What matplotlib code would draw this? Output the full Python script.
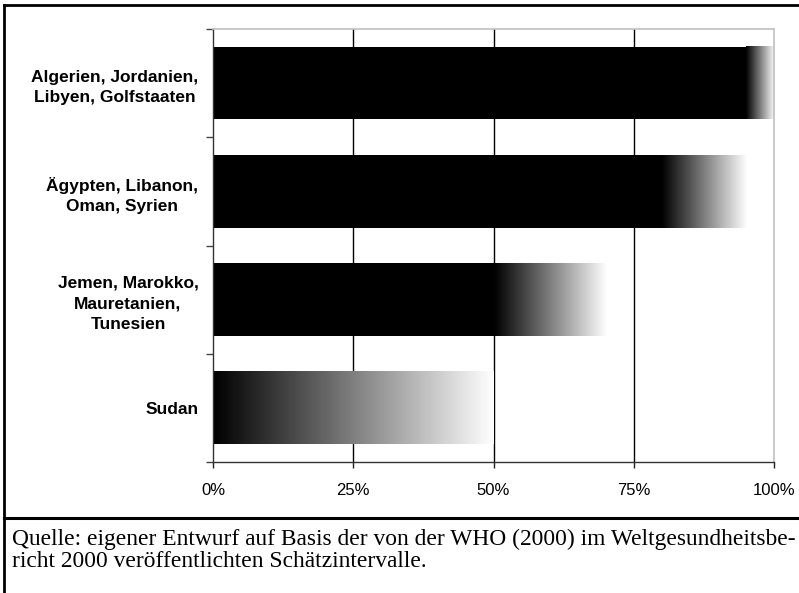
import numpy as np
import matplotlib.pyplot as plt
from matplotlib.lines import Line2D

# Schätzintervalle (untere / obere Grenze in %)
regions = [
    "Algerien, Jordanien,\nLibyen, Golfstaaten",
    "Ägypten, Libanon,\nOman, Syrien",
    "Jemen, Marokko,\nMauretanien,\nTunesien",
    "Sudan",
]
lower = [95, 80, 50, 0]
upper = [100, 95, 70, 50]
xticks = [0, 25, 50, 75, 100]
xticklabels = ["0%", "25%", "50%", "75%", "100%"]
source_lines = [
    "Quelle: eigener Entwurf auf Basis der von der WHO (2000) im Weltgesundheitsbe-",
    "richt 2000 veröffentlichten Schätzintervalle.",
]

W, H = 799, 593
fig = plt.figure(figsize=(W / 100, H / 100), dpi=100)
ax = fig.add_axes([213 / W, 1 - 462 / H, (774 - 213) / W, (462 - 29) / H])

bar_h = 0.67
grad = np.linspace(0, 1, 256).reshape(1, -1)
ypos = np.arange(len(regions))
for y, lo, hi in zip(ypos, lower, upper):
    if lo > 0:
        ax.barh(y, lo, height=bar_h, color="black", zorder=2)
    ax.imshow(grad, cmap="gray", vmin=0, vmax=1, aspect="auto",
              extent=(lo, hi, y + bar_h / 2, y - bar_h / 2), zorder=2,
              interpolation="bilinear")

ax.set_xlim(0, 100)
ax.set_ylim(len(regions) - 0.5, -0.5)
ax.set_aspect("auto")

ax.set_xticks(xticks)
ax.set_xticklabels(xticklabels, fontsize=12, family="Liberation Sans")
ax.tick_params(axis="x", length=4, width=1, color="#222222", pad=11)

ax.set_yticks(ypos)
ax.set_yticklabels(regions, fontsize=12.5, family="Liberation Sans",
                   fontweight="bold", linespacing=1.45)
for t in ax.get_yticklabels():
    t.set_multialignment("center")
ax.set_yticks(np.arange(len(regions) + 1) - 0.5, minor=True)
ax.tick_params(axis="y", which="major", length=0, pad=10.5)
ax.tick_params(axis="y", which="minor", length=5, width=1, color="#444444")

ax.set_axisbelow(True)
ax.xaxis.grid(True, color="black", linewidth=1)
ax.get_xgridlines()[0].set_visible(False)
ax.get_xgridlines()[-1].set_visible(False)

for side in ["top", "right"]:
    ax.spines[side].set_color("#c0c0c0")
    ax.spines[side].set_linewidth(1.2)
for side in ["left", "bottom"]:
    ax.spines[side].set_color("#333333")
    ax.spines[side].set_linewidth(1)

# Rahmen und Trennlinie
fig.add_artist(Line2D([4 / W, 1], [1 - 5 / H, 1 - 5 / H], color="black",
                      linewidth=2, transform=fig.transFigure))
fig.add_artist(Line2D([4 / W, 4 / W], [0, 1 - 5 / H], color="black",
                      linewidth=2, transform=fig.transFigure))
fig.add_artist(Line2D([4 / W, 1], [1 - 518 / H, 1 - 518 / H], color="black",
                      linewidth=2.2, transform=fig.transFigure))

for i, line in enumerate(source_lines):
    fig.text(12 / W, 1 - (545 + 22 * i) / H, line, fontsize=16.9,
             family="Liberation Serif", va="baseline", ha="left")

fig.savefig("out.png", dpi=100)
